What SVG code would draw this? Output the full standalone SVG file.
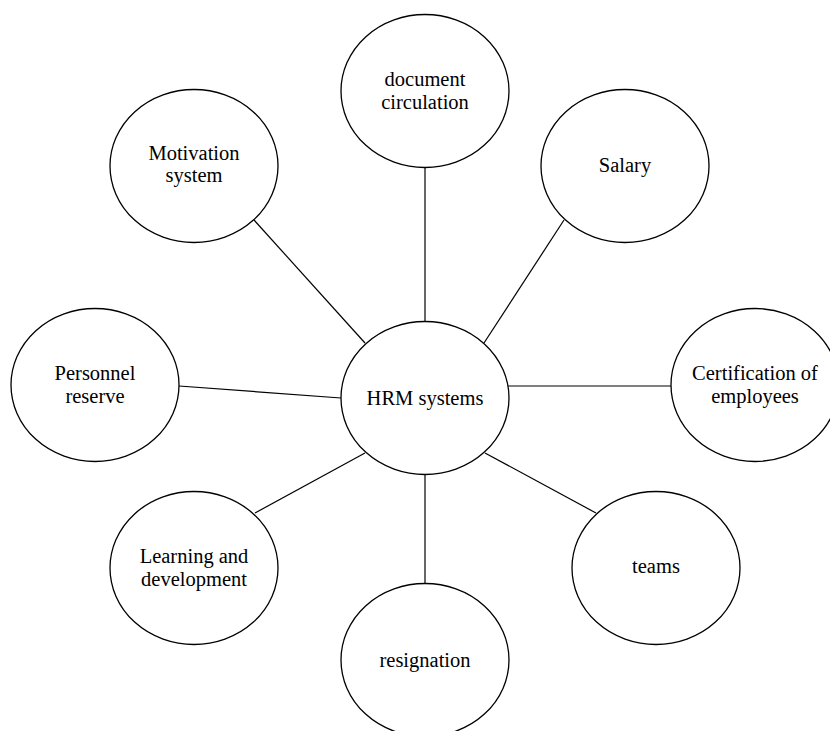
<svg xmlns="http://www.w3.org/2000/svg" width="830" height="731" viewBox="0 0 830 731">
<style>
.n ellipse{fill:#fff;stroke:#000;stroke-width:1.3}
.n text{font-family:"Liberation Serif","Times New Roman",serif;font-size:20.5px;fill:#000;text-anchor:middle}
#connectors line{stroke:#000;stroke-width:1.2}
</style>
<rect width="830" height="731" fill="#fff"/>
<g id="connectors">
<line x1="425" y1="168" x2="425" y2="322"/>
<line x1="254" y1="220" x2="365" y2="343"/>
<line x1="564" y1="220" x2="484" y2="343"/>
<line x1="179" y1="386" x2="341" y2="398"/>
<line x1="508" y1="386" x2="671" y2="386"/>
<line x1="255" y1="513" x2="365" y2="453"/>
<line x1="596" y1="513" x2="485" y2="453"/>
<line x1="425" y1="475" x2="425" y2="583"/>
</g>
<g id="hrm" class="n"><ellipse cx="425" cy="398" rx="84" ry="76.5"/><text x="425" y="405">HRM systems</text></g>
<g id="document" class="n"><ellipse cx="425" cy="91" rx="84" ry="76.5"/><text x="425" y="86">document</text><text x="425" y="109">circulation</text></g>
<g id="motivation" class="n"><ellipse cx="194" cy="166" rx="84" ry="76.5"/><text x="194" y="160">Motivation</text><text x="194" y="182">system</text></g>
<g id="salary" class="n"><ellipse cx="625" cy="166" rx="84" ry="76.5"/><text x="625" y="172">Salary</text></g>
<g id="personnel" class="n"><ellipse cx="95" cy="385" rx="84" ry="76.5"/><text x="95" y="380">Personnel</text><text x="95" y="403">reserve</text></g>
<g id="certification" class="n"><ellipse cx="755" cy="385" rx="84" ry="76.5"/><text x="755" y="380">Certification of</text><text x="755" y="403">employees</text></g>
<g id="learning" class="n"><ellipse cx="194" cy="568" rx="84" ry="76.5"/><text x="194" y="563">Learning and</text><text x="194" y="586">development</text></g>
<g id="teams" class="n"><ellipse cx="656" cy="568" rx="84" ry="76.5"/><text x="656" y="573">teams</text></g>
<g id="resignation" class="n"><ellipse cx="425" cy="660" rx="84" ry="76.5"/><text x="425" y="667">resignation</text></g>
</svg>
